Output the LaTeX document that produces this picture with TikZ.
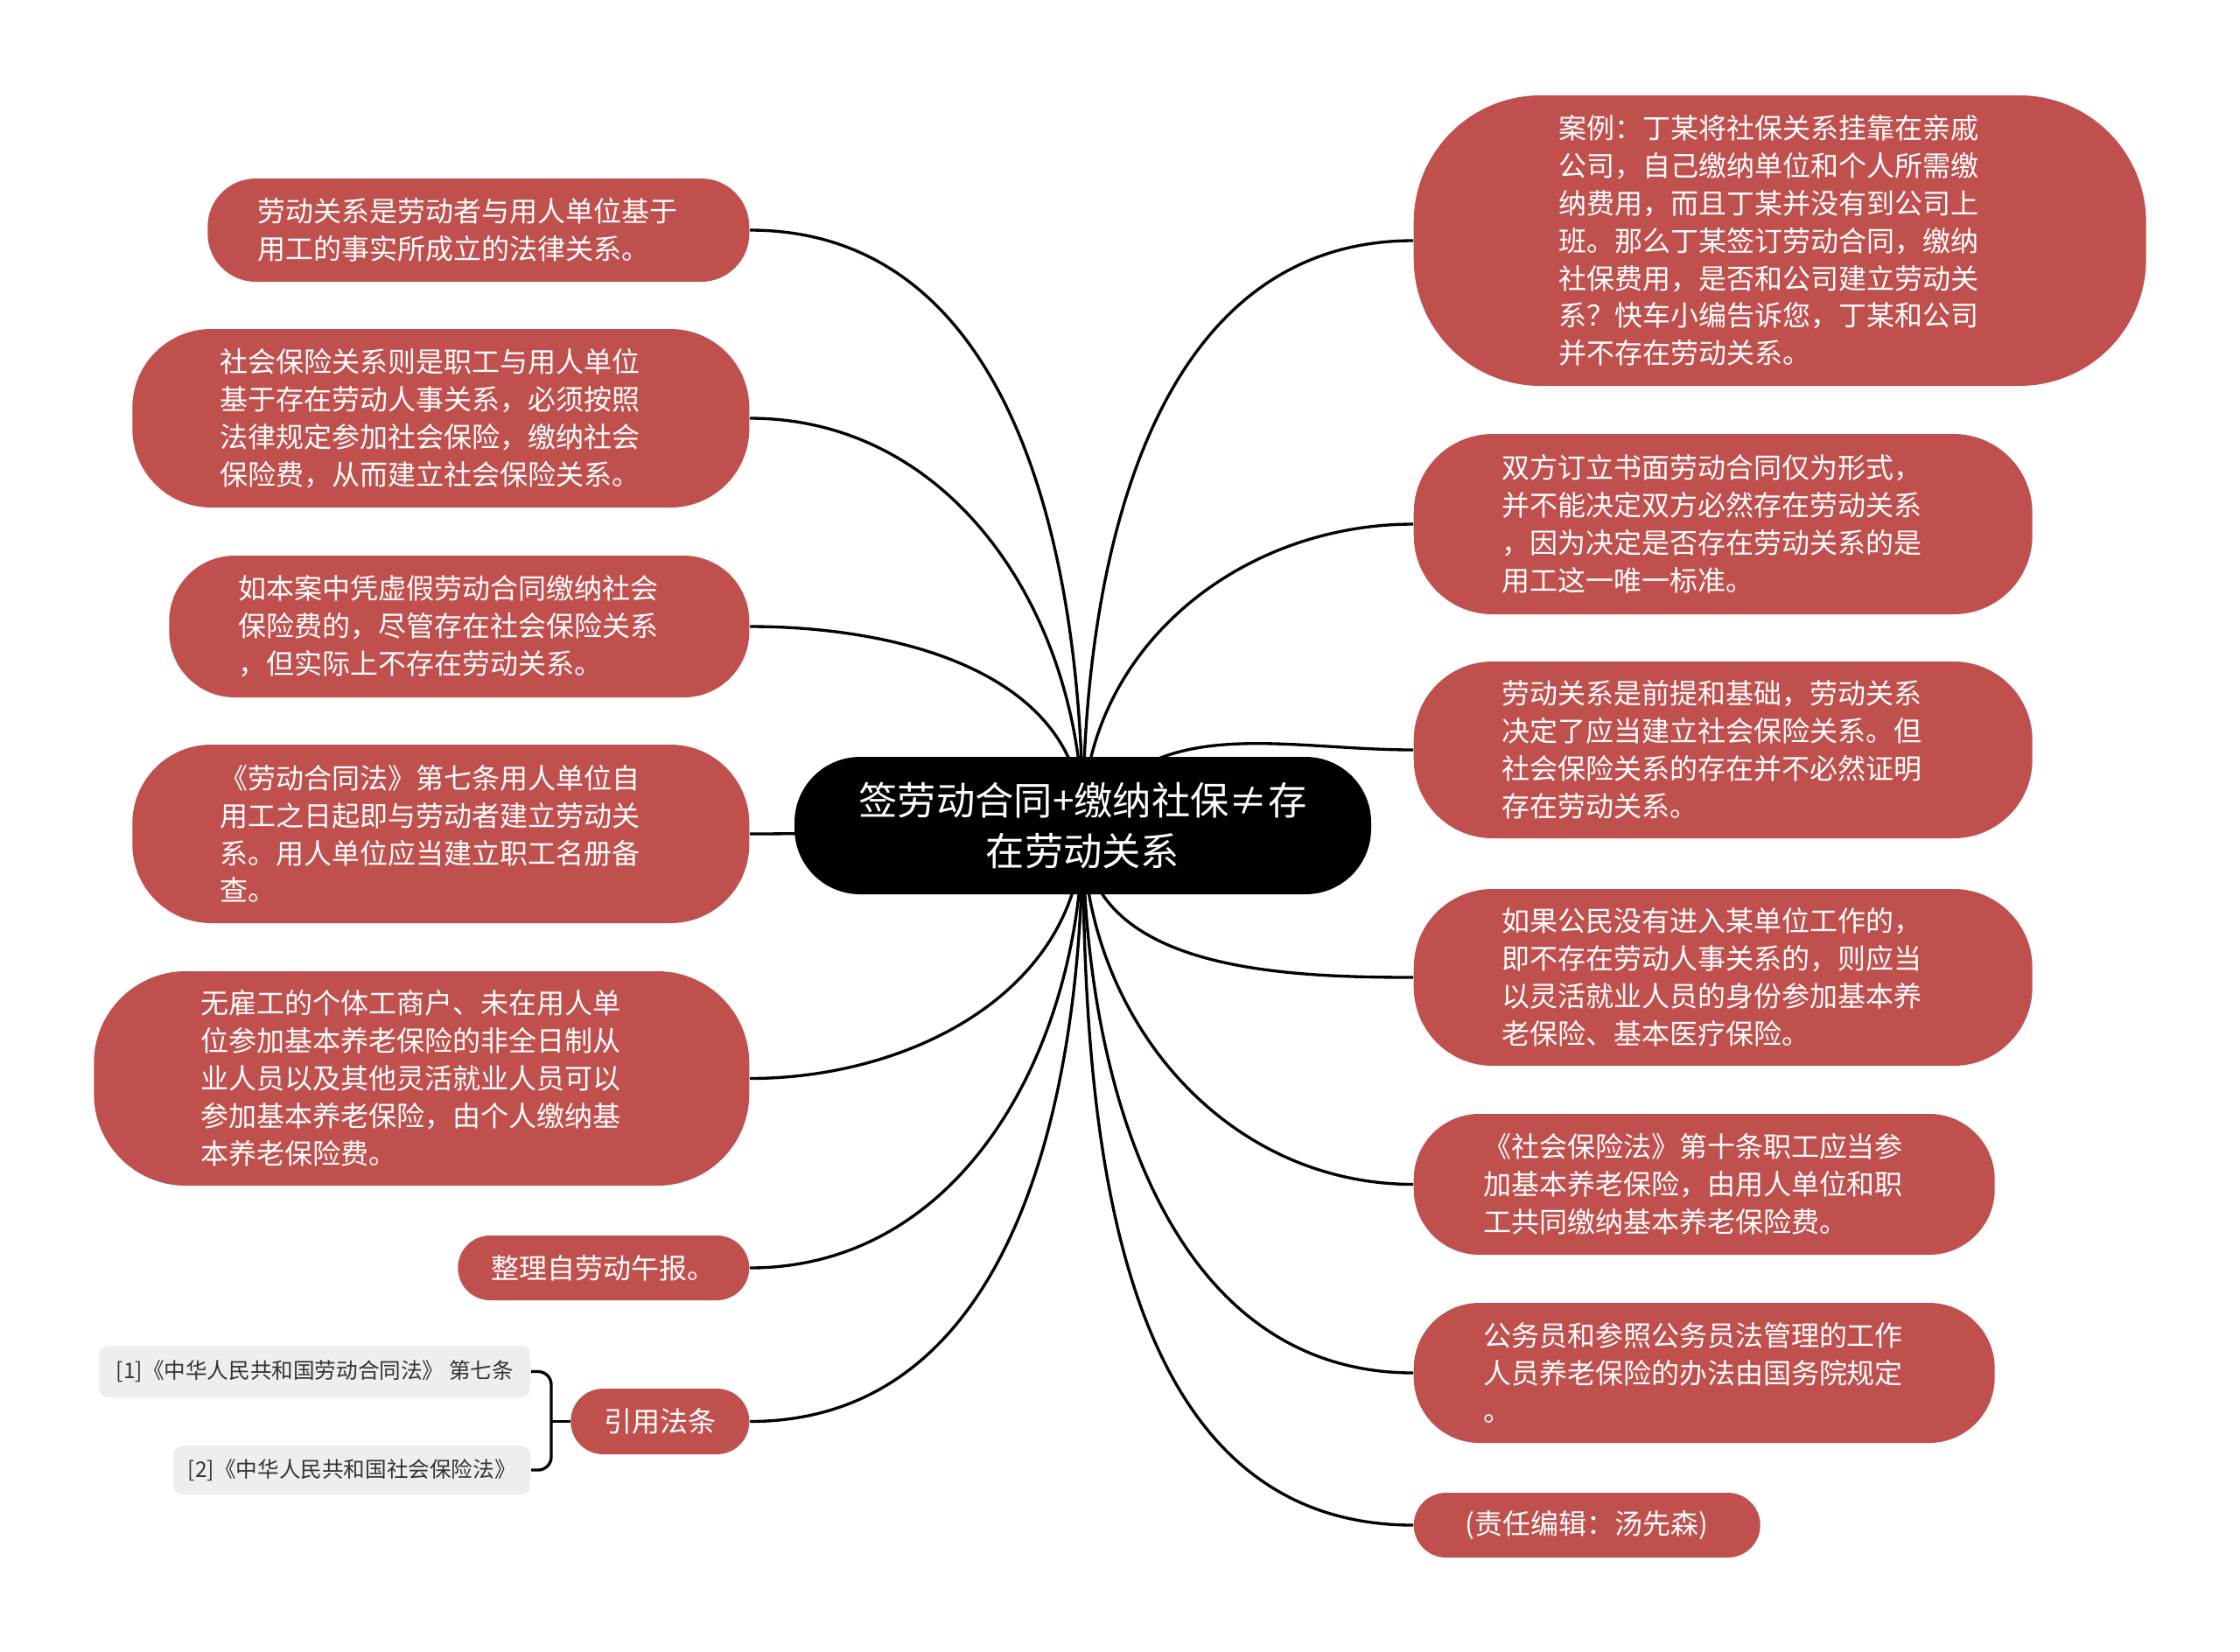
\documentclass[tikz,border=0pt]{standalone}
\usepackage{fontspec}
\setmainfont{Noto Sans CJK SC}
\usepackage{xcolor}
\usepackage{tikz}
\usetikzlibrary{positioning, backgrounds, calc}
\definecolor{leafred}{RGB}{192,80,77}
\definecolor{refgray}{RGB}{238,238,238}

\begin{document}
\begin{tikzpicture}[
    root/.style={rectangle, fill=black, text=white, align=center, rounded corners=0.75cm, minimum width=6.59cm, minimum height=1.57cm, inner sep=0pt, font=\fontsize{12.6}{16.7}\selectfont},
    leaf/.style={rectangle, fill=leafred, text=white, align=left, text width=5.05cm, inner sep=0pt, font=\fontsize{9.1}{12.2}\selectfont},
    shortleaf/.style={rectangle, fill=leafred, text=white, align=center, inner sep=0pt, rounded corners=0.37cm, minimum height=0.74cm, font=\fontsize{9.1}{12.2}\selectfont},
    refbox/.style={rectangle, fill=refgray, text=black!80, align=center, rounded corners=0.1cm, inner sep=0pt, font=\fontsize{7}{9}\selectfont},
    branch/.style={draw=black, line width=0.95pt}
]
    \useasboundingbox (0,0) rectangle (25.6,-18.87);

    \node [root] (c) at (12.375,-9.435) {签劳动合同+缴纳社保≠存\\在劳动关系};

    \node [leaf, anchor=east, minimum width=6.19cm, minimum height=1.18cm, rounded corners=0.55cm] (l1) at (8.57,-2.63) {劳动关系是劳动者与用人单位基于\\用工的事实所成立的法律关系。};
    \node [leaf, anchor=east, minimum width=7.05cm, minimum height=2.04cm, rounded corners=0.9cm] (l2) at (8.57,-4.78) {社会保险关系则是职工与用人单位\\基于存在劳动人事关系，必须按照\\法律规定参加社会保险，缴纳社会\\保险费，从而建立社会保险关系。};
    \node [leaf, anchor=east, minimum width=6.63cm, minimum height=1.62cm, rounded corners=0.75cm] (l3) at (8.57,-7.16) {如本案中凭虚假劳动合同缴纳社会\\保险费的，尽管存在社会保险关系\\，但实际上不存在劳动关系。};
    \node [leaf, anchor=east, minimum width=7.05cm, minimum height=2.04cm, rounded corners=0.9cm] (l4) at (8.57,-9.53) {《劳动合同法》第七条用人单位自\\用工之日起即与劳动者建立劳动关\\系。用人单位应当建立职工名册备\\查。};
    \node [leaf, anchor=east, minimum width=7.49cm, minimum height=2.45cm, rounded corners=1.05cm] (l5) at (8.57,-12.325) {无雇工的个体工商户、未在用人单\\位参加基本养老保险的非全日制从\\业人员以及其他灵活就业人员可以\\参加基本养老保险，由个人缴纳基\\本养老保险费。};
    \node [shortleaf, anchor=east, minimum width=3.33cm] (l6) at (8.57,-14.49) {整理自劳动午报。};
    \node [shortleaf, anchor=east, minimum width=2.04cm, minimum height=0.75cm] (l7) at (8.57,-16.245) {引用法条};

    \node [refbox, anchor=east, minimum width=4.93cm, minimum height=0.59cm] (ref1) at (6.07,-15.675) {[1]《中华人民共和国劳动合同法》 第七条};
    \node [refbox, anchor=east, minimum width=4.08cm, minimum height=0.56cm] (ref2) at (6.07,-16.80) {[2]《中华人民共和国社会保险法》};

    \node [leaf, anchor=west, minimum width=8.37cm, minimum height=3.32cm, rounded corners=1.45cm] (r1) at (16.15,-2.75) {案例：丁某将社保关系挂靠在亲戚\\公司，自己缴纳单位和个人所需缴\\纳费用，而且丁某并没有到公司上\\班。那么丁某签订劳动合同，缴纳\\社保费用，是否和公司建立劳动关\\系？快车小编告诉您，丁某和公司\\并不存在劳动关系。};
    \node [leaf, anchor=west, minimum width=7.07cm, minimum height=2.06cm, rounded corners=0.9cm] (r2) at (16.15,-5.99) {双方订立书面劳动合同仅为形式，\\并不能决定双方必然存在劳动关系\\，因为决定是否存在劳动关系的是\\用工这一唯一标准。};
    \node [leaf, anchor=west, minimum width=7.07cm, minimum height=2.02cm, rounded corners=0.9cm] (r3) at (16.15,-8.57) {劳动关系是前提和基础，劳动关系\\决定了应当建立社会保险关系。但\\社会保险关系的存在并不必然证明\\存在劳动关系。};
    \node [leaf, anchor=west, minimum width=7.07cm, minimum height=2.02cm, rounded corners=0.9cm] (r4) at (16.15,-11.17) {如果公民没有进入某单位工作的，\\即不存在劳动人事关系的，则应当\\以灵活就业人员的身份参加基本养\\老保险、基本医疗保险。};
    \node [leaf, anchor=west, minimum width=6.64cm, minimum height=1.61cm, rounded corners=0.75cm] (r5) at (16.15,-13.535) {《社会保险法》第十条职工应当参\\加基本养老保险，由用人单位和职\\工共同缴纳基本养老保险费。};
    \node [leaf, anchor=west, minimum width=6.64cm, minimum height=1.60cm, rounded corners=0.75cm] (r6) at (16.15,-15.69) {公务员和参照公务员法管理的工作\\人员养老保险的办法由国务院规定\\。};
    \node [shortleaf, anchor=west, minimum width=3.96cm] (r7) at (16.15,-17.43) {(责任编辑：汤先森)};

    \coordinate (brace) at ($(ref1.east)+(0.23,0)$);

    \begin{scope}[on background layer]
        \draw [branch] (c.center) to[out=90,in=0] (l1.east);
        \draw [branch] (c.center) to[out=90,in=0] (l2.east);
        \draw [branch] (c.center) to[out=90,in=0] (l3.east);
        \draw [branch] (c.center) to[out=180,in=0] (l4.east);
        \draw [branch] (c.center) to[out=-90,in=0] (l5.east);
        \draw [branch] (c.center) to[out=-90,in=0] (l6.east);
        \draw [branch] (c.center) to[out=-90,in=0] (l7.east);

        \draw [branch] (c.center) to[out=90,in=180] (r1.west);
        \draw [branch] (c.center) to[out=90,in=180] (r2.west);
        \draw [branch] (c.center) to[out=60,in=180] (r3.west);
        \draw [branch] (c.center) to[out=-90,in=180] (r4.west);
        \draw [branch] (c.center) to[out=-90,in=180] (r5.west);
        \draw [branch] (c.center) to[out=-90,in=180] (r6.west);
        \draw [branch] (c.center) to[out=-90,in=180] (r7.west);
    \end{scope}

    \draw [branch, rounded corners=0.15cm] (ref1.east) -- (brace) |- (ref2.east);
    \draw [branch] (l7.west) -- (brace |- l7.west);
\end{tikzpicture}
\end{document}
